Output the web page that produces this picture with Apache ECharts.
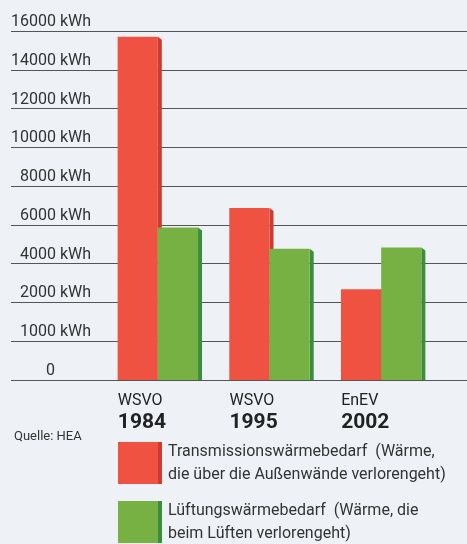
<!DOCTYPE html>
<html>
<head>
<meta charset="utf-8">
<script src="https://cdn.jsdelivr.net/npm/echarts@6/dist/echarts.min.js"></script>
<style>
  html, body { margin: 0; padding: 0; background: #eef2f6; }
  #main { width: 467px; height: 544px; }
</style>
</head>
<body>
<div id="main"></div>
<script>
// Daten
var categoryNames = ['WSVO', 'WSVO', 'EnEV'];
var categoryYears = ['1984', '1995', '2002'];
var transmission = [15700, 6870, 2680];
var lueftung = [5860, 4770, 4840];
var tickLabels = ['0', '1000 kWh', '2000 kWh', '4000 kWh', '6000 kWh', '8000 kWh',
                  '10000 kWh', '12000 kWh', '14000 kWh', '16000 kWh'];
var legendNames = {
  transmission: 'Transmissionswärmebedarf  (Wärme,\ndie über die Außenwände verlorengeht)',
  lueftung: 'Lüftungswärmebedarf  (Wärme, die\nbeim Lüften verlorengeht)'
};

// die Achse im Original ist nicht linear: 0, 1000, 2000, 4000 ... 16000
function toAxis(v) {
  return v <= 2000 ? v / 1000 : 1 + v / 2000;
}

var FONT = 'Roboto, "Liberation Sans", sans-serif';
var RED = '#f05242', RED_SIDE = '#cf3b2f';
var GREEN = '#77b043', GREEN_SIDE = '#3a8f3e';

function bar3d(side, face, dark) {
  return function (params, api) {
    var top = api.coord([api.value(0), api.value(1)]);
    var base = api.coord([api.value(0), 0]);
    var w = api.size([1, 0])[0] * 0.36;
    var x0 = side < 0 ? top[0] - w : top[0];
    var x1 = x0 + w;
    return {
      type: 'group',
      children: [
        { type: 'polygon',
          shape: { points: [[x1, top[1]], [x1 + 4, top[1] + 3], [x1 + 4, base[1]], [x1, base[1]]] },
          style: { fill: dark } },
        { type: 'rect',
          shape: { x: x0, y: top[1], width: w, height: base[1] - top[1] },
          style: { fill: face } }
      ]
    };
  };
}

// ein Legendeneintrag mit dunkler Seitenkante: zwei übereinanderliegende Legenden
function legendItem(name, top, face, dark) {
  var common = {
    orient: 'vertical', left: 118, top: top, padding: 0, selectedMode: false,
    itemHeight: 42,
    formatter: function (n) { return legendNames[n]; }
  };
  return [
    Object.assign({}, common, {
      z: 2, itemWidth: 44,
      data: [{ name: name, icon: 'rect', itemStyle: { color: dark } }],
      textStyle: { fontFamily: FONT, fontSize: 16, lineHeight: 23, color: 'rgba(0,0,0,0)' }
    }),
    Object.assign({}, common, {
      z: 3, itemWidth: 40,
      data: [{ name: name, icon: 'rect', itemStyle: { color: face } }],
      textStyle: { fontFamily: FONT, fontSize: 16, lineHeight: 23, color: '#333', padding: [0, 0, 0, 5] }
    })
  ];
}

var chart = echarts.init(document.getElementById('main'));
var option = {
  backgroundColor: '#eef2f6',
  animation: false,
  title: {
    text: 'Quelle: HEA',
    left: 9, top: 425,
    textStyle: { fontFamily: FONT, fontSize: 13, fontWeight: 'normal', color: '#333' }
  },
  legend: legendItem('transmission', 440, RED, RED_SIDE)
    .concat(legendItem('lueftung', 499, GREEN, GREEN_SIDE)),
  grid: [
    { left: 11, right: 0, top: 31, bottom: 164 },
    { left: 102, right: 30, top: 31, bottom: 164 }
  ],
  xAxis: [
    { gridIndex: 0, type: 'value', show: false, min: 0, max: 1 },
    {
      gridIndex: 1, type: 'category',
      data: categoryNames.map(function (n, i) { return n + '\n' + categoryYears[i]; }),
      axisLine: { show: false }, axisTick: { show: false },
      axisLabel: {
        margin: 11,
        formatter: function (v) {
          var p = v.split('\n');
          return '{a|' + p[0] + '}\n{b|' + p[1] + '}';
        },
        rich: {
          a: { fontFamily: FONT, fontSize: 16, lineHeight: 20, color: '#222', width: 80, align: 'left' },
          b: { fontFamily: FONT, fontSize: 21, fontWeight: 'bold', lineHeight: 24, color: '#222', width: 80, align: 'left' }
        }
      }
    }
  ],
  yAxis: [
    {
      gridIndex: 0, type: 'value', min: 0, max: 9, interval: 1,
      axisLine: { show: false }, axisTick: { show: false },
      splitLine: { show: true, lineStyle: { color: '#555', width: 1 } },
      axisLabel: {
        inside: true, margin: 80, align: 'right', verticalAlign: 'bottom',
        formatter: function (v) {
          return v === 0 ? '{z|' + tickLabels[0] + '}' : tickLabels[v];
        },
        fontFamily: FONT, fontSize: 16, color: '#333', lineHeight: 18,
        rich: { z: { fontFamily: FONT, fontSize: 16, color: '#333', lineHeight: 18, padding: [0, 36, 0, 0] } }
      }
    },
    { gridIndex: 1, type: 'value', min: 0, max: 9, show: false }
  ],
  series: [
    {
      name: 'transmission', type: 'custom', xAxisIndex: 1, yAxisIndex: 1,
      itemStyle: { color: RED },
      renderItem: bar3d(-1, RED, RED_SIDE),
      data: transmission.map(function (v, i) { return [i, toAxis(v)]; })
    },
    {
      name: 'lueftung', type: 'custom', xAxisIndex: 1, yAxisIndex: 1,
      itemStyle: { color: GREEN },
      renderItem: bar3d(1, GREEN, GREEN_SIDE),
      data: lueftung.map(function (v, i) { return [i, toAxis(v)]; })
    }
  ]
};
chart.setOption(option);
</script>
</body>
</html>
